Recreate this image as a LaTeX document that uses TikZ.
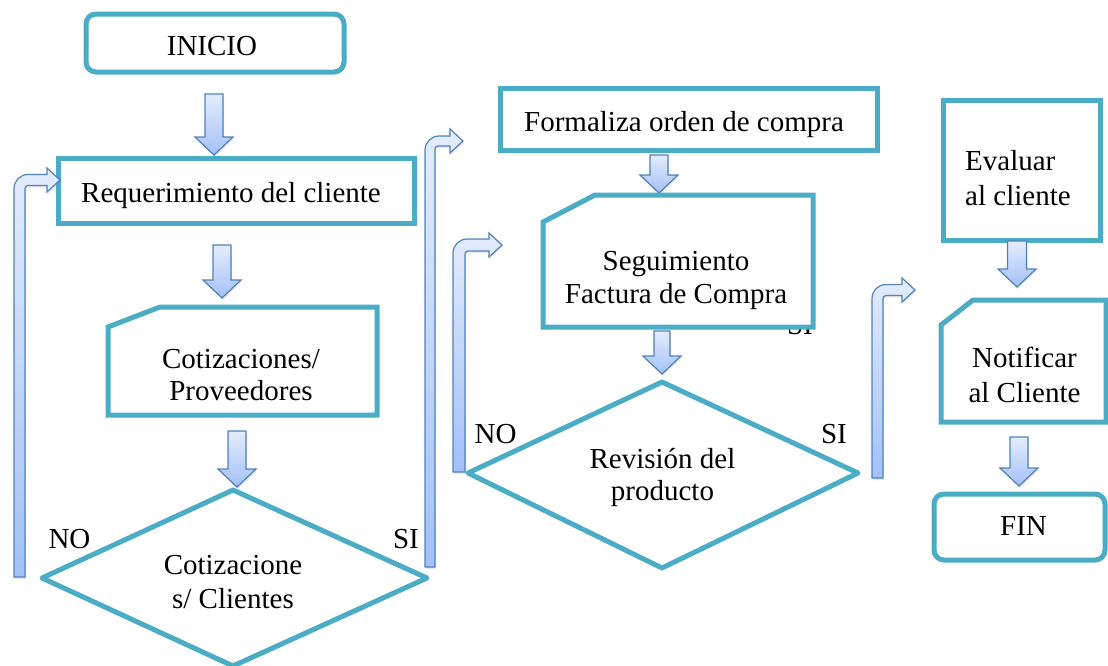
\documentclass[tikz,border=0pt]{standalone}
\usepackage{fontspec}
\setmainfont{Liberation Serif}
\usetikzlibrary{shadows}
\definecolor{boxcol}{RGB}{75,172,198}
\definecolor{arrline}{RGB}{79,129,189}
\definecolor{arrtop}{RGB}{228,236,252}
\definecolor{arrbot}{RGB}{162,193,248}
\tikzset{
  box/.style={draw=boxcol, line width=5pt, fill=white},
  dbox/.style={draw=boxcol, line width=5pt, fill=white, line join=round},
  blockarrow/.style={draw=arrline, line width=1.2pt, top color=arrtop, bottom color=arrbot,
     drop shadow={opacity=0.18, shadow xshift=1pt, shadow yshift=-2pt}},
  txt/.style={font=\fontsize{29}{33}\selectfont, inner sep=0pt, anchor=base, align=center},
}
% down block arrow: centre x, top y, tip y, shaft half width
\newcommand\dnarr[4]{%
  \path[blockarrow] ({#1-#4},#2) -- ({#1+#4},#2) -- ({#1+#4},{#3-18}) -- ({#1+19},{#3-18})
     -- (#1,#3) -- ({#1-19},{#3-18}) -- ({#1-#4},{#3-18}) -- cycle;}
% bent block arrow: left x, bottom y, centre y of head, tip x, shaft width
\newcommand\bentarr[5]{%
  \path[blockarrow] (#1,#2) -- (#1,{#3-#5/2+14}) arc[start angle=180,end angle=90,radius=14pt]
     -- ({#4-13},{#3-#5/2}) -- ({#4-13},{#3-12}) -- (#4,#3) -- ({#4-13},{#3+12})
     -- ({#4-13},{#3+#5/2}) -- ({#1+#5+3},{#3+#5/2}) arc[start angle=90,end angle=180,radius=3pt]
     -- ({#1+#5},#2) -- cycle;}
\begin{document}
\begin{tikzpicture}[x=1pt, y=-1pt]
\useasboundingbox (0,0) rectangle (1108,665);

% ---------- column 1 ----------
\draw[box, rounded corners=10pt] (86,14) rectangle (344,72);
\node[txt] (inicio) at (212,55) {INICIO};
\dnarr{214}{94}{155}{9}

\draw[box] (58,158) rectangle (414,223);
\node[txt] (req) at (231,202) {Requerimiento del cliente};
\dnarr{222}{245}{298}{9}

\draw[box] (108,327) -- (160,307) -- (377,307) -- (377,415) -- (108,415) -- cycle;
\node[txt, font=\fontsize{29}{32}\selectfont] (cotp) at (241,400) {Cotizaciones/\\Proveedores};
\dnarr{237}{431}{487}{9}

\draw[dbox] (233,490) -- (427,578) -- (233,666) -- (42,578) -- cycle;
\node[txt, font=\fontsize{29}{34}\selectfont] (cotc) at (233,608) {Cotizacione\\s/ Clientes};
\node[txt] (no1) at (69.5,548) {NO};
\node[txt] (si1) at (406,548) {SI};

\bentarr{14}{577}{180}{60}{11}
\bentarr{425}{567}{141}{463}{10}

% ---------- column 2 ----------
\draw[box] (500,88) rectangle (877,150);
\node[txt] (form) at (684,131) {Formaliza orden de compra};
\dnarr{659}{155}{193}{9}

\node[txt] (si3) at (800,334) {SI};
\draw[box] (543,222) -- (595,195) -- (813,195) -- (813,327) -- (543,327) -- cycle;
\node[txt] (seg) at (676,303) {Seguimiento\\Factura de Compra};
\dnarr{662}{331}{374}{8}

\draw[dbox] (662,382) -- (858,473) -- (662,568) -- (468,473) -- cycle;
\node[txt, font=\fontsize{29}{32}\selectfont] (rev) at (662.5,500) {Revisión del\\producto};
\node[txt] (no2) at (495.5,443) {NO};
\node[txt] (si2) at (834,443) {SI};

\bentarr{453}{472}{245}{502}{12}
\bentarr{872}{478}{290}{915}{11}

% ---------- column 3 ----------
\draw[box] (943,100) rectangle (1100,240);
\node[txt, anchor=base west, align=left, font=\fontsize{29}{35}\selectfont] (eval) at (965,205) {Evaluar\\al cliente};
\dnarr{1017}{241}{287}{9.5}

\draw[box] (941,325) -- (973,300) -- (1106,300) -- (1106,422) -- (941,422) -- cycle;
\node[txt, font=\fontsize{29}{35}\selectfont] (notif) at (1024.5,402) {Notificar\\al Cliente};
\dnarr{1019}{437}{486}{9}

\draw[box, rounded corners=10pt] (934,494) rectangle (1105,560);
\node[txt] (fin) at (1023.5,535) {FIN};
\end{tikzpicture}
\end{document}
